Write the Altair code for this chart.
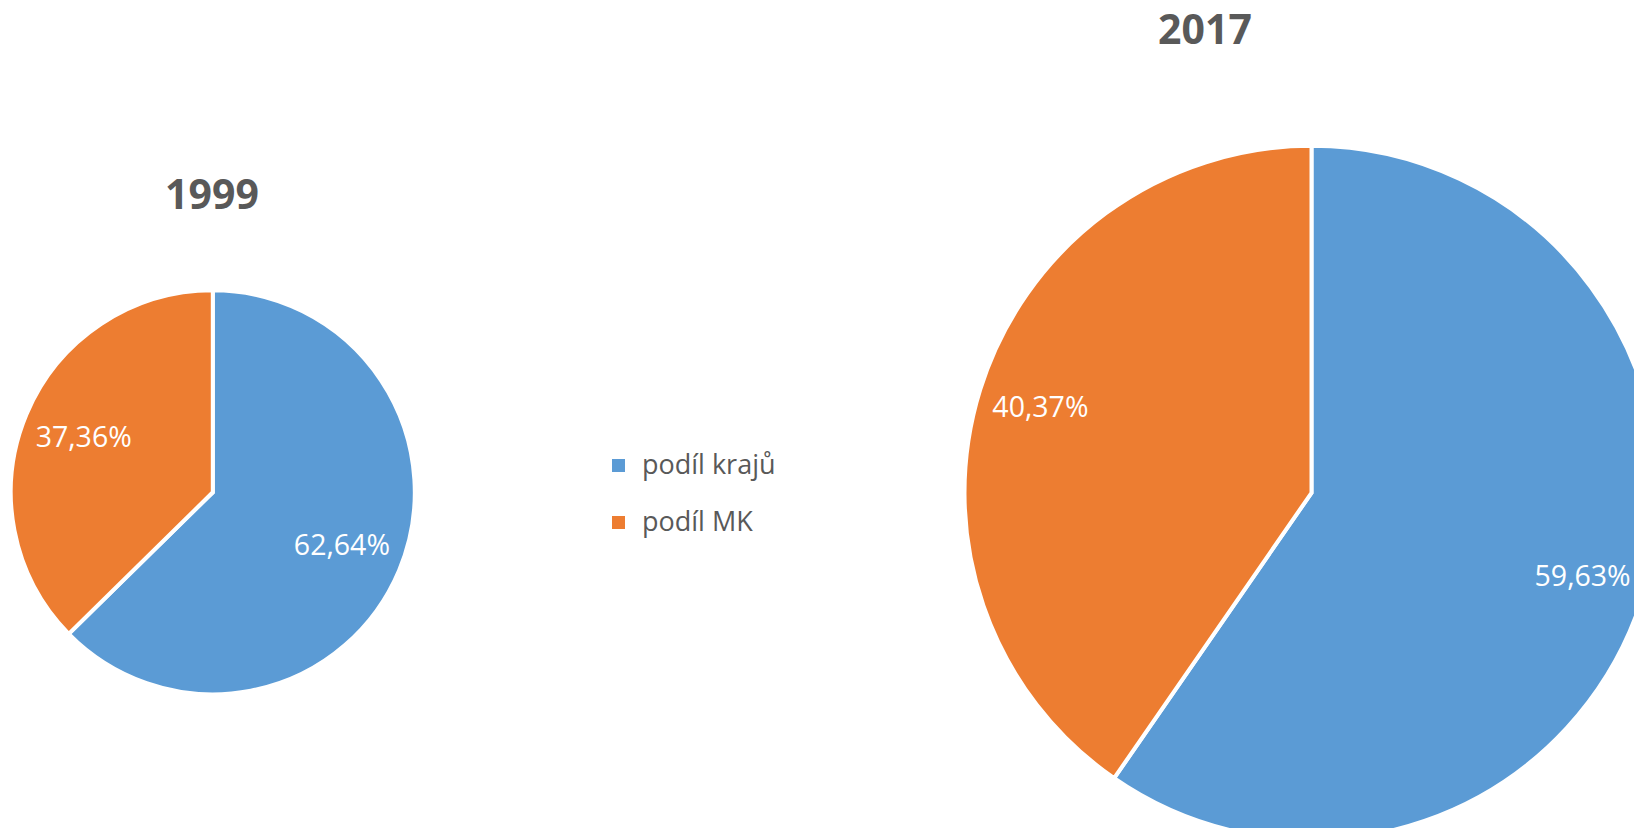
import altair as alt
import pandas as pd

years = ["1999", "2017"]
categories = ["podíl krajů", "podíl MK"]
shares_1999 = [62.64, 37.36]
shares_2017 = [59.63, 40.37]
labels_1999 = ["62,64%", "37,36%"]
labels_2017 = ["59,63%", "40,37%"]
colors = ["#5B9BD5", "#ED7D31"]

rows = []
for year, shares, labels in zip(years, [shares_1999, shares_2017], [labels_1999, labels_2017]):
    for i, (c, v, l) in enumerate(zip(categories, shares, labels)):
        rows.append({"year": year, "category": c, "share": v, "label": l, "ord": i})
df = pd.DataFrame(rows)
titles_df = pd.DataFrame({"year": years})

FONT = "Open Sans"
GREY = "#595959"

color = alt.Color(
    "category:N",
    scale=alt.Scale(domain=categories, range=colors),
    legend=alt.Legend(
        title=None, orient="none", legendX=597, legendY=444,
        symbolType="square", symbolSize=169, symbolStrokeWidth=0, symbolOpacity=1,
        labelFontSize=27, labelFont=FONT, labelColor=GREY,
        rowPadding=29, labelOffset=10, padding=0,
    ),
)


def pie(year, cx, cy, r, label_r):
    base = alt.Chart(df).transform_filter(alt.datum.year == year).encode(
        theta=alt.Theta("share:Q", stack=True),
        order=alt.Order("ord:Q"),
    )
    arc = base.mark_arc(x=cx, y=cy, outerRadius=r + 2, stroke="white", strokeWidth=4).encode(color=color)
    txt = base.mark_text(
        x=cx, y=cy, radius=label_r, font=FONT, fontSize=28.5,
        align="center", baseline="middle",
    ).encode(text="label:N", color=alt.value("white"))
    return arc, txt


arc1, txt1 = pie("1999", 204.8, 484.3, 200, 140)
arc2, txt2 = pie("2017", 1303.5, 484.8, 345, 284)

title_base = alt.Chart(titles_df).mark_text(
    font=FONT, fontSize=41, fontWeight="bold", color=GREY, align="center", baseline="middle"
)
t1 = title_base.transform_filter(alt.datum.year == "1999").encode(
    text="year:N", x=alt.value(204), y=alt.value(189)
)
t2 = title_base.transform_filter(alt.datum.year == "2017").encode(
    text="year:N", x=alt.value(1197), y=alt.value(24)
)

chart = (
    alt.layer(arc1, arc2, txt1, txt2, t1, t2)
    .properties(width=1626, height=820, padding=0, autosize=alt.AutoSizeParams(type="none"))
    .configure_view(stroke=None)
)

chart.save("out.html", embed_options={"renderer": "svg", "actions": False})
